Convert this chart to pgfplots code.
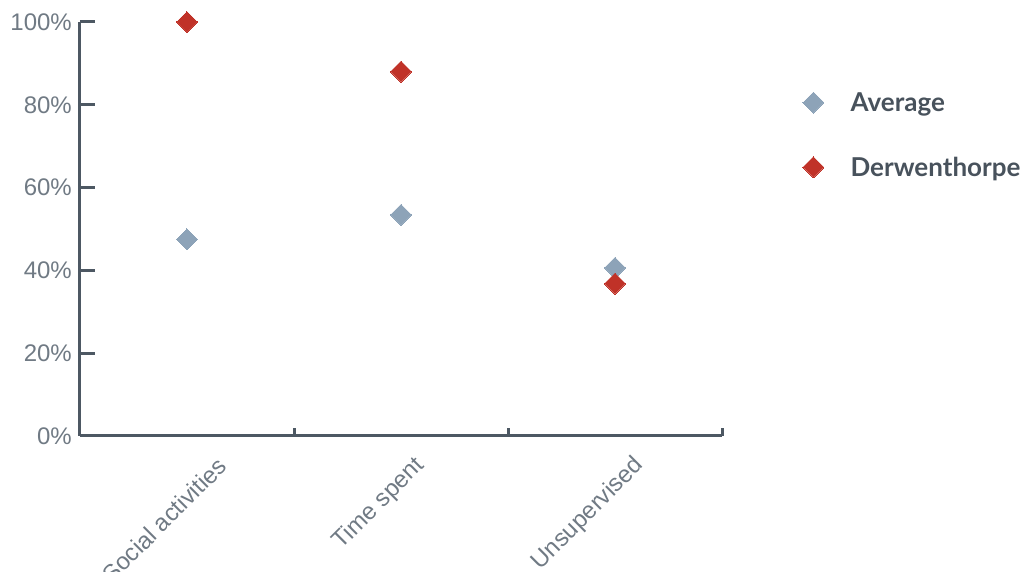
\documentclass[border=0pt]{standalone}
\usepackage{fontspec}
\setmainfont{Liberation Sans}
\newfontfamily\legendfont{Lato}
\usepackage{pgfplots}
\pgfplotsset{compat=1.18}
\definecolor{avgcol}{RGB}{141,163,184}
\definecolor{dercol}{RGB}{192,50,40}
\definecolor{axiscol}{RGB}{77,88,99}
\definecolor{tickcol}{RGB}{112,122,132}
\definecolor{legcol}{RGB}{72,82,92}
\begin{document}
\begin{tikzpicture}
\path[use as bounding box, clip] (-80pt,-136pt) rectangle (946pt,436pt);
\begin{axis}[
  scale only axis,
  width=642pt, height=414pt,
  at={(0pt,0pt)}, anchor=south west,
  xmin=-0.5, xmax=2.5, ymin=0, ymax=100,
  axis x line*=bottom, axis y line*=left,
  axis line style={line width=3pt, color=axiscol, -},
  every outer x axis line/.append style={line width=3pt, color=axiscol},
  every outer y axis line/.append style={line width=3pt, color=axiscol},
  tick align=inside,
  major tick length=15pt,
  minor tick length=8pt,
  tick style={line width=3pt, color=axiscol},
  major tick style={line width=3pt, color=axiscol},
  ytick={0,20,40,60,80,100},
  yticklabels={0\%,20\%,40\%,60\%,80\%,100\%},
  yticklabel style={inner sep=0pt, xshift=-8pt, font=\fontsize{24}{28}\selectfont, text=tickcol},
  xtick={0.164,1.093,2.117},
  xticklabels={Social activities,Time spent,Unsupervised},
  major x tick style={draw=none},
  minor xtick={0.5,1.5,2.5},
  minor x tick style={line width=3pt, color=axiscol},
  xticklabel style={yshift=-26pt, rotate=45, anchor=east, inner sep=0pt, font=\fontsize{24}{28}\selectfont, text=tickcol},
  legend style={draw=none, fill=none, at={(1.1254,0.727)}, anchor=west, inner sep=0pt,
    row sep=40pt, font=\legendfont\bfseries\fontsize{26}{30}\selectfont, text=legcol},
  legend cell align=left,
  legend image code/.code={\draw[#1] plot coordinates {(0pt,0pt)}; \path (-10.5pt,0pt) (35pt,0pt);},
]
\addplot[only marks, mark=square*, mark size=7.4pt, mark options={rotate=45, fill=avgcol, draw=avgcol, line width=0pt}]
  coordinates {(0,47.5) (1,53.4) (2,40.6)};
\addlegendentry{Average}
\addplot[only marks, mark=square*, mark size=7.4pt, mark options={rotate=45, fill=dercol, draw=dercol, line width=0pt}]
  coordinates {(0,100) (1,88) (2,36.8)};
\addlegendentry{Derwenthorpe}
\end{axis}
\end{tikzpicture}
\end{document}
